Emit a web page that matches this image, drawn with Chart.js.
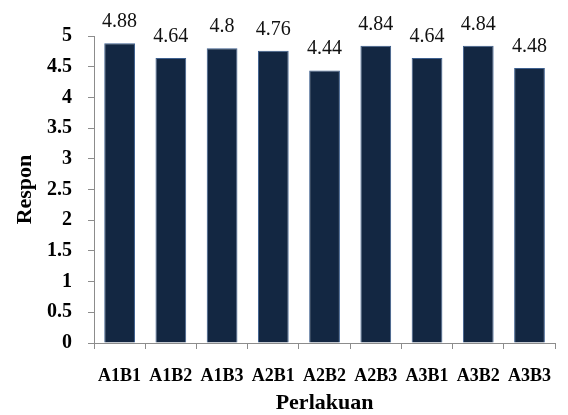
<!DOCTYPE html>
<html>
<head>
<meta charset="utf-8">
<script src="https://cdn.jsdelivr.net/npm/chart.js@4.4.1/dist/chart.umd.min.js"></script>
<style>
  html, body { margin: 0; padding: 0; background: #ffffff; }
  #wrap { width: 568px; height: 415px; position: relative; }
</style>
</head>
<body>
<div id="wrap"><canvas id="chart" width="568" height="415"></canvas></div>
<script>
// Treatment combinations and their mean response scores
const categories = ['A1B1', 'A1B2', 'A1B3', 'A2B1', 'A2B2', 'A2B3', 'A3B1', 'A3B2', 'A3B3'];
const responValues = [4.88, 4.64, 4.8, 4.76, 4.44, 4.84, 4.64, 4.84, 4.48];
const yTickValues = [0, 0.5, 1, 1.5, 2, 2.5, 3, 3.5, 4, 4.5, 5];

const SERIF = "'Liberation Serif', 'Times New Roman', Times, serif";
const AXIS_GREY = '#8c8c8c';

// Prints each bar's value just above it
const valueLabels = {
  id: 'valueLabels',
  afterDatasetsDraw(chart) {
    const { ctx } = chart;
    const meta = chart.getDatasetMeta(0);
    const values = chart.data.datasets[0].data;
    ctx.save();
    ctx.font = '20px ' + SERIF;
    ctx.fillStyle = '#111111';
    ctx.textAlign = 'center';
    ctx.textBaseline = 'alphabetic';
    meta.data.forEach((bar, i) => {
      ctx.fillText(String(values[i]), bar.x, bar.y - 16);
    });
    ctx.restore();
  }
};

new Chart(document.getElementById('chart'), {
  type: 'bar',
  data: {
    labels: categories,
    datasets: [{
      label: 'Respon',
      data: responValues,
      backgroundColor: '#132742',
      borderColor: '#3d5f8e',
      borderWidth: 1,
      barPercentage: 0.6,
      categoryPercentage: 1.0
    }]
  },
  options: {
    responsive: false,
    animation: false,
    devicePixelRatio: 1,
    layout: { padding: { top: 36, right: 0, bottom: 0, left: 0 } },
    plugins: {
      legend: { display: false },
      tooltip: { enabled: false }
    },
    scales: {
      x: {
        offset: true,
        border: { display: true, color: AXIS_GREY, width: 1 },
        grid: {
          offset: true,
          drawOnChartArea: false,
          drawTicks: true,
          tickLength: 6,
          color: AXIS_GREY
        },
        ticks: {
          color: '#000000',
          padding: 17,
          maxRotation: 0,
          autoSkip: false,
          font: { family: SERIF, size: 18, weight: 'bold' }
        },
        title: {
          display: true,
          text: 'Perlakuan',
          color: '#000000',
          padding: { top: 0, bottom: 1 },
          font: { family: SERIF, size: 22, weight: 'bold', lineHeight: 1 }
        },
        afterFit(scale) { scale.height = 72; }
      },
      y: {
        min: 0,
        max: 5,
        afterBuildTicks(scale) {
          scale.ticks = yTickValues.map(v => ({ value: v }));
        },
        border: { display: true, color: AXIS_GREY, width: 1 },
        grid: {
          drawOnChartArea: false,
          drawTicks: true,
          tickLength: 6,
          color: AXIS_GREY
        },
        ticks: {
          color: '#000000',
          padding: 16,
          callback: (v) => String(v),
          font: { family: SERIF, size: 20, weight: 'bold' }
        },
        title: {
          display: true,
          text: 'Respon',
          color: '#000000',
          padding: { top: 14, bottom: 0 },
          font: { family: SERIF, size: 22, weight: 'bold', lineHeight: 1 }
        },
        afterFit(scale) { scale.width = 94; }
      }
    }
  },
  plugins: [valueLabels]
});
</script>
</body>
</html>
